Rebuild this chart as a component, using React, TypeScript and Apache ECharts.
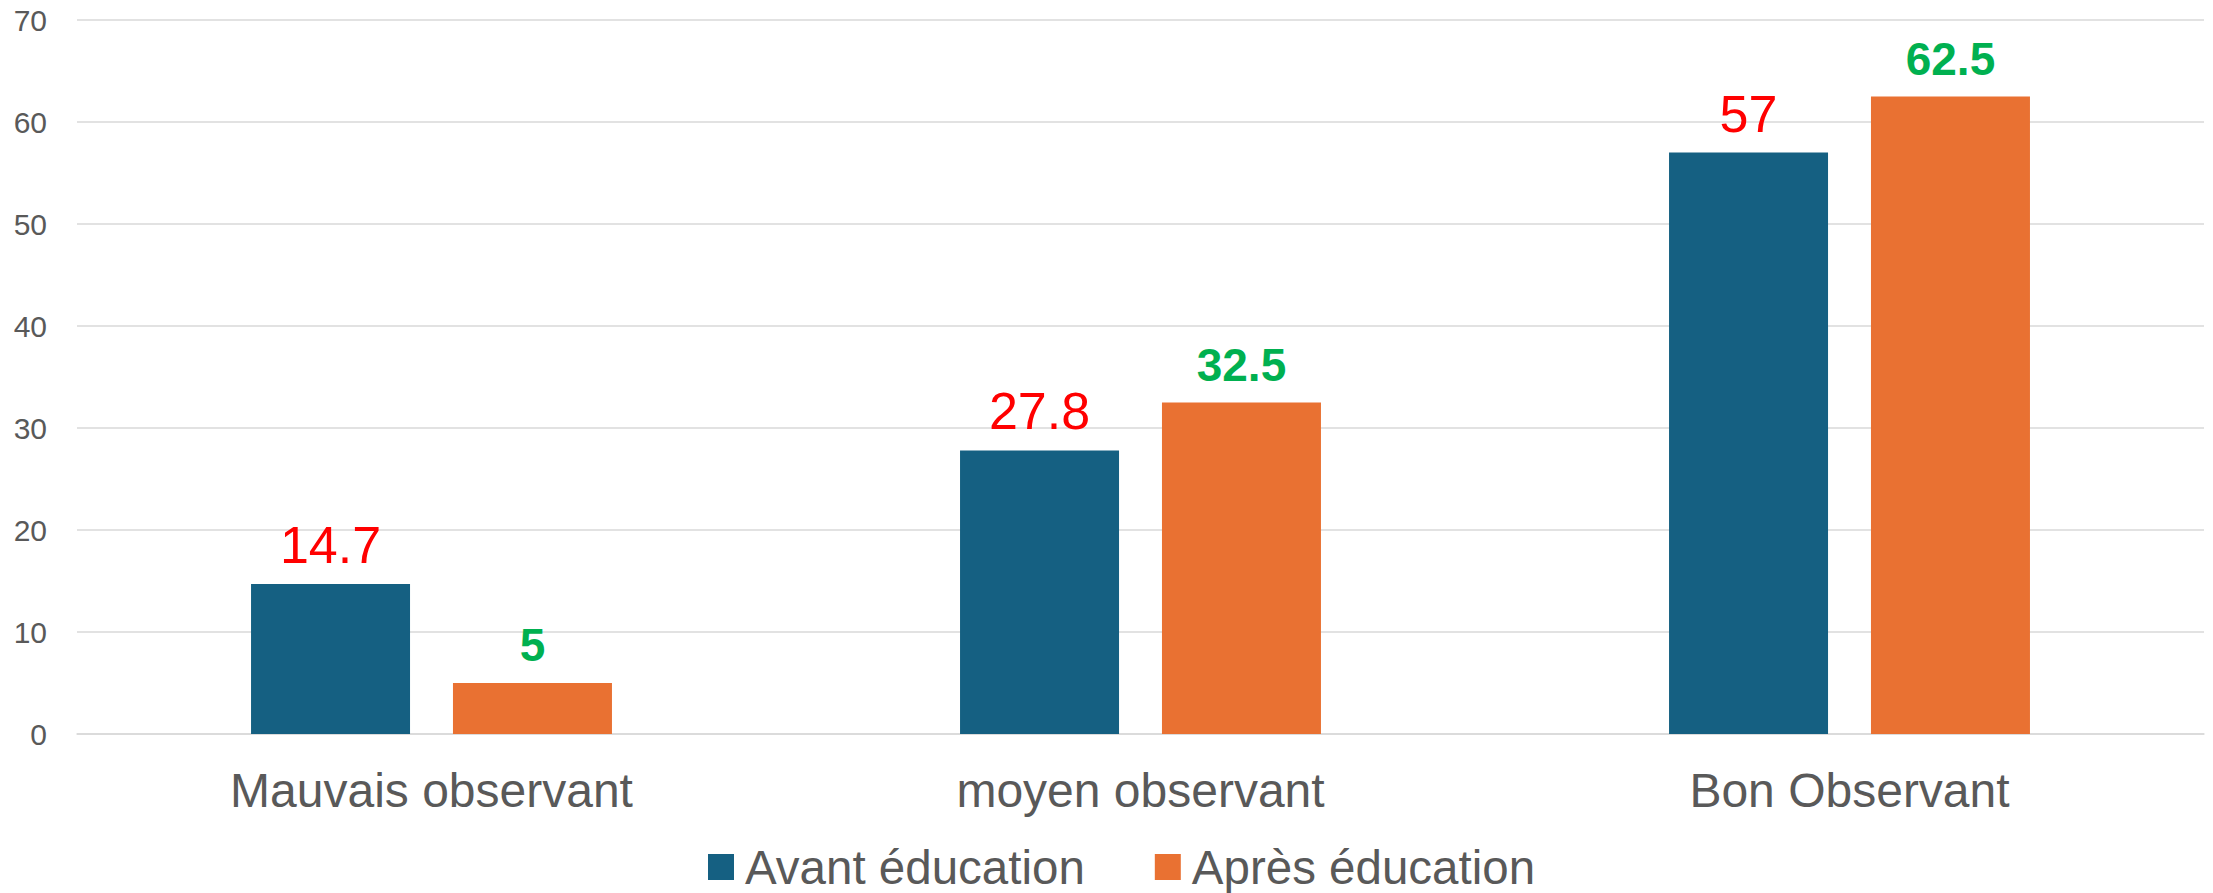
import React, { useEffect, useRef } from "react";
import * as echarts from "echarts";

const categories = ["Mauvais observant", "moyen observant", "Bon Observant"];
const avantValues = [14.7, 27.8, 57];
const apresValues = [5, 32.5, 62.5];
const seriesNames = ["Avant éducation", "Après éducation"];
const yTicks = { min: 0, max: 70, interval: 10 };

export default function App() {
  const ref = useRef<HTMLDivElement>(null);
  useEffect(() => {
    const chart = echarts.init(ref.current!, null, { renderer: "svg" });
    const font = "Liberation Sans, Arial, sans-serif";
    chart.setOption({
      animation: false,
      backgroundColor: "#ffffff",
      textStyle: { fontFamily: font },
      grid: { left: 77, right: 9, top: 20, bottom: 159, containLabel: false },
      legend: {
        left: 708,
        top: 843,
        padding: 0,
        itemGap: 70,
        itemWidth: 26,
        itemHeight: 26,
        icon: "rect",
        data: seriesNames,
        textStyle: {
          fontFamily: font,
          fontSize: 47.5,
          color: "#595959",
          padding: [0, 0, 0, 6],
        },
      },
      xAxis: {
        type: "category",
        data: categories,
        axisLine: { show: true, lineStyle: { color: "#D9D9D9", width: 1.5 } },
        axisTick: { show: false },
        axisLabel: {
          fontFamily: font,
          fontSize: 48,
          color: "#595959",
          margin: 32,
        },
      },
      yAxis: {
        type: "value",
        min: yTicks.min,
        max: yTicks.max,
        interval: yTicks.interval,
        axisLine: { show: false },
        axisTick: { show: false },
        splitLine: { lineStyle: { color: "#D9D9D9", width: 1.5 } },
        axisLabel: {
          fontFamily: font,
          fontSize: 30,
          color: "#595959",
          margin: 30,
        },
      },
      series: [
        {
          name: seriesNames[0],
          type: "bar",
          data: avantValues,
          barWidth: 159,
          barGap: "27%",
          itemStyle: { color: "#156082" },
          label: {
            show: true,
            position: "top",
            distance: 13,
            fontFamily: font,
            fontSize: 52,
            color: "#FF0000",
          },
        },
        {
          name: seriesNames[1],
          type: "bar",
          data: apresValues,
          barWidth: 159,
          barGap: "27%",
          itemStyle: { color: "#E97132" },
          label: {
            show: true,
            position: "top",
            distance: 15,
            fontFamily: font,
            fontSize: 46,
            fontWeight: "bold",
            color: "#00B050",
          },
        },
      ],
    });
    return () => chart.dispose();
  }, []);
  return (
    <div
      ref={ref}
      style={{ position: "fixed", left: 0, top: 0, width: 2213, height: 893 }}
    />
  );
}
